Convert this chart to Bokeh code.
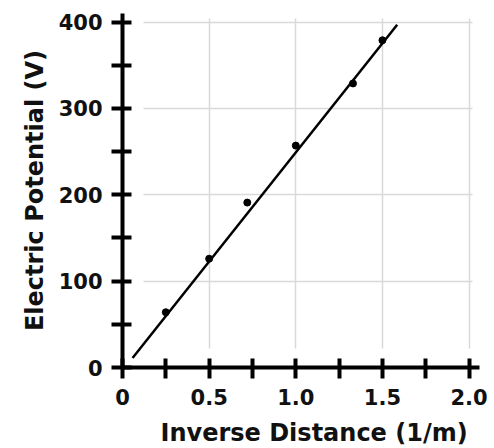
from bokeh.plotting import figure
from bokeh.models import FixedTicker, NumeralTickFormatter, Title
from bokeh.embed import file_html
from bokeh.resources import INLINE

# data
inv_dist = [0.25, 0.5, 0.72, 1.0, 1.33, 1.5]
potential = [64, 126, 191, 257, 329, 379]
fit_x = [0.058, 1.585]
fit_y = [11, 397]

x_major = [0, 0.5, 1.0, 1.5, 2.0]
x_minor = [0.25, 0.75, 1.25, 1.75]
y_major = [0, 100, 200, 300, 400]
y_minor = [50, 150, 250, 350]

x_title = "Inverse Distance (1/m)"
y_title = "Electric Potential (V)"

FONT = "DejaVu Sans"

p = figure(width=490, height=448, x_range=(0, 2.06), y_range=(0, 410),
           min_border_left=122, min_border_top=13, min_border_right=11, min_border_bottom=81,
           output_backend="svg", toolbar_location=None)
p.outline_line_color = None
p.background_fill_color = "white"

p.xaxis.ticker = FixedTicker(ticks=x_major, minor_ticks=x_minor)
p.yaxis.ticker = FixedTicker(ticks=y_major, minor_ticks=y_minor)
p.xaxis.formatter = NumeralTickFormatter(format="0.0")
p.xaxis.major_label_overrides = {0: "0"}

for ax in (p.xaxis, p.yaxis):
    ax.axis_line_width = 4
    ax.axis_line_color = "black"
    ax.major_tick_line_width = 4
    ax.minor_tick_line_width = 4
    ax.major_tick_line_color = "black"
    ax.minor_tick_line_color = "black"
    ax.major_tick_in = 9
    ax.major_tick_out = 11
    ax.minor_tick_in = 9
    ax.minor_tick_out = 11
    ax.major_label_text_font = FONT
    ax.major_label_text_font_style = "bold"
    ax.major_label_text_font_size = "21px"
    ax.major_label_text_color = "#111111"
    ax.axis_label_text_font = FONT
    ax.axis_label_text_font_style = "bold"
    ax.axis_label_text_font_size = "24px"
    ax.axis_label_text_color = "#111111"

p.xaxis.major_label_standoff = 10
p.yaxis.major_label_standoff = 9
p.yaxis.axis_label = y_title
p.yaxis.axis_label_standoff = 7

xt = Title(text=x_title, align="left", offset=38, vertical_align="top",
           text_font=FONT, text_font_style="bold", text_font_size="24px",
           text_color="#111111", standoff=0,
           padding=dict(left=0, right=0, top=11, bottom=0))
p.add_layout(xt, "below")

p.grid.grid_line_color = "#d9d9d9"
p.grid.grid_line_width = 1.5
p.xgrid.cross_bounds = (22, 404)
p.ygrid.cross_bounds = (0.12, 2.02)

p.line(fit_x, fit_y, line_width=2.5, color="black")
p.scatter(inv_dist, potential, size=7, color="black")

open("out.html", "w").write(file_html(p, INLINE))
